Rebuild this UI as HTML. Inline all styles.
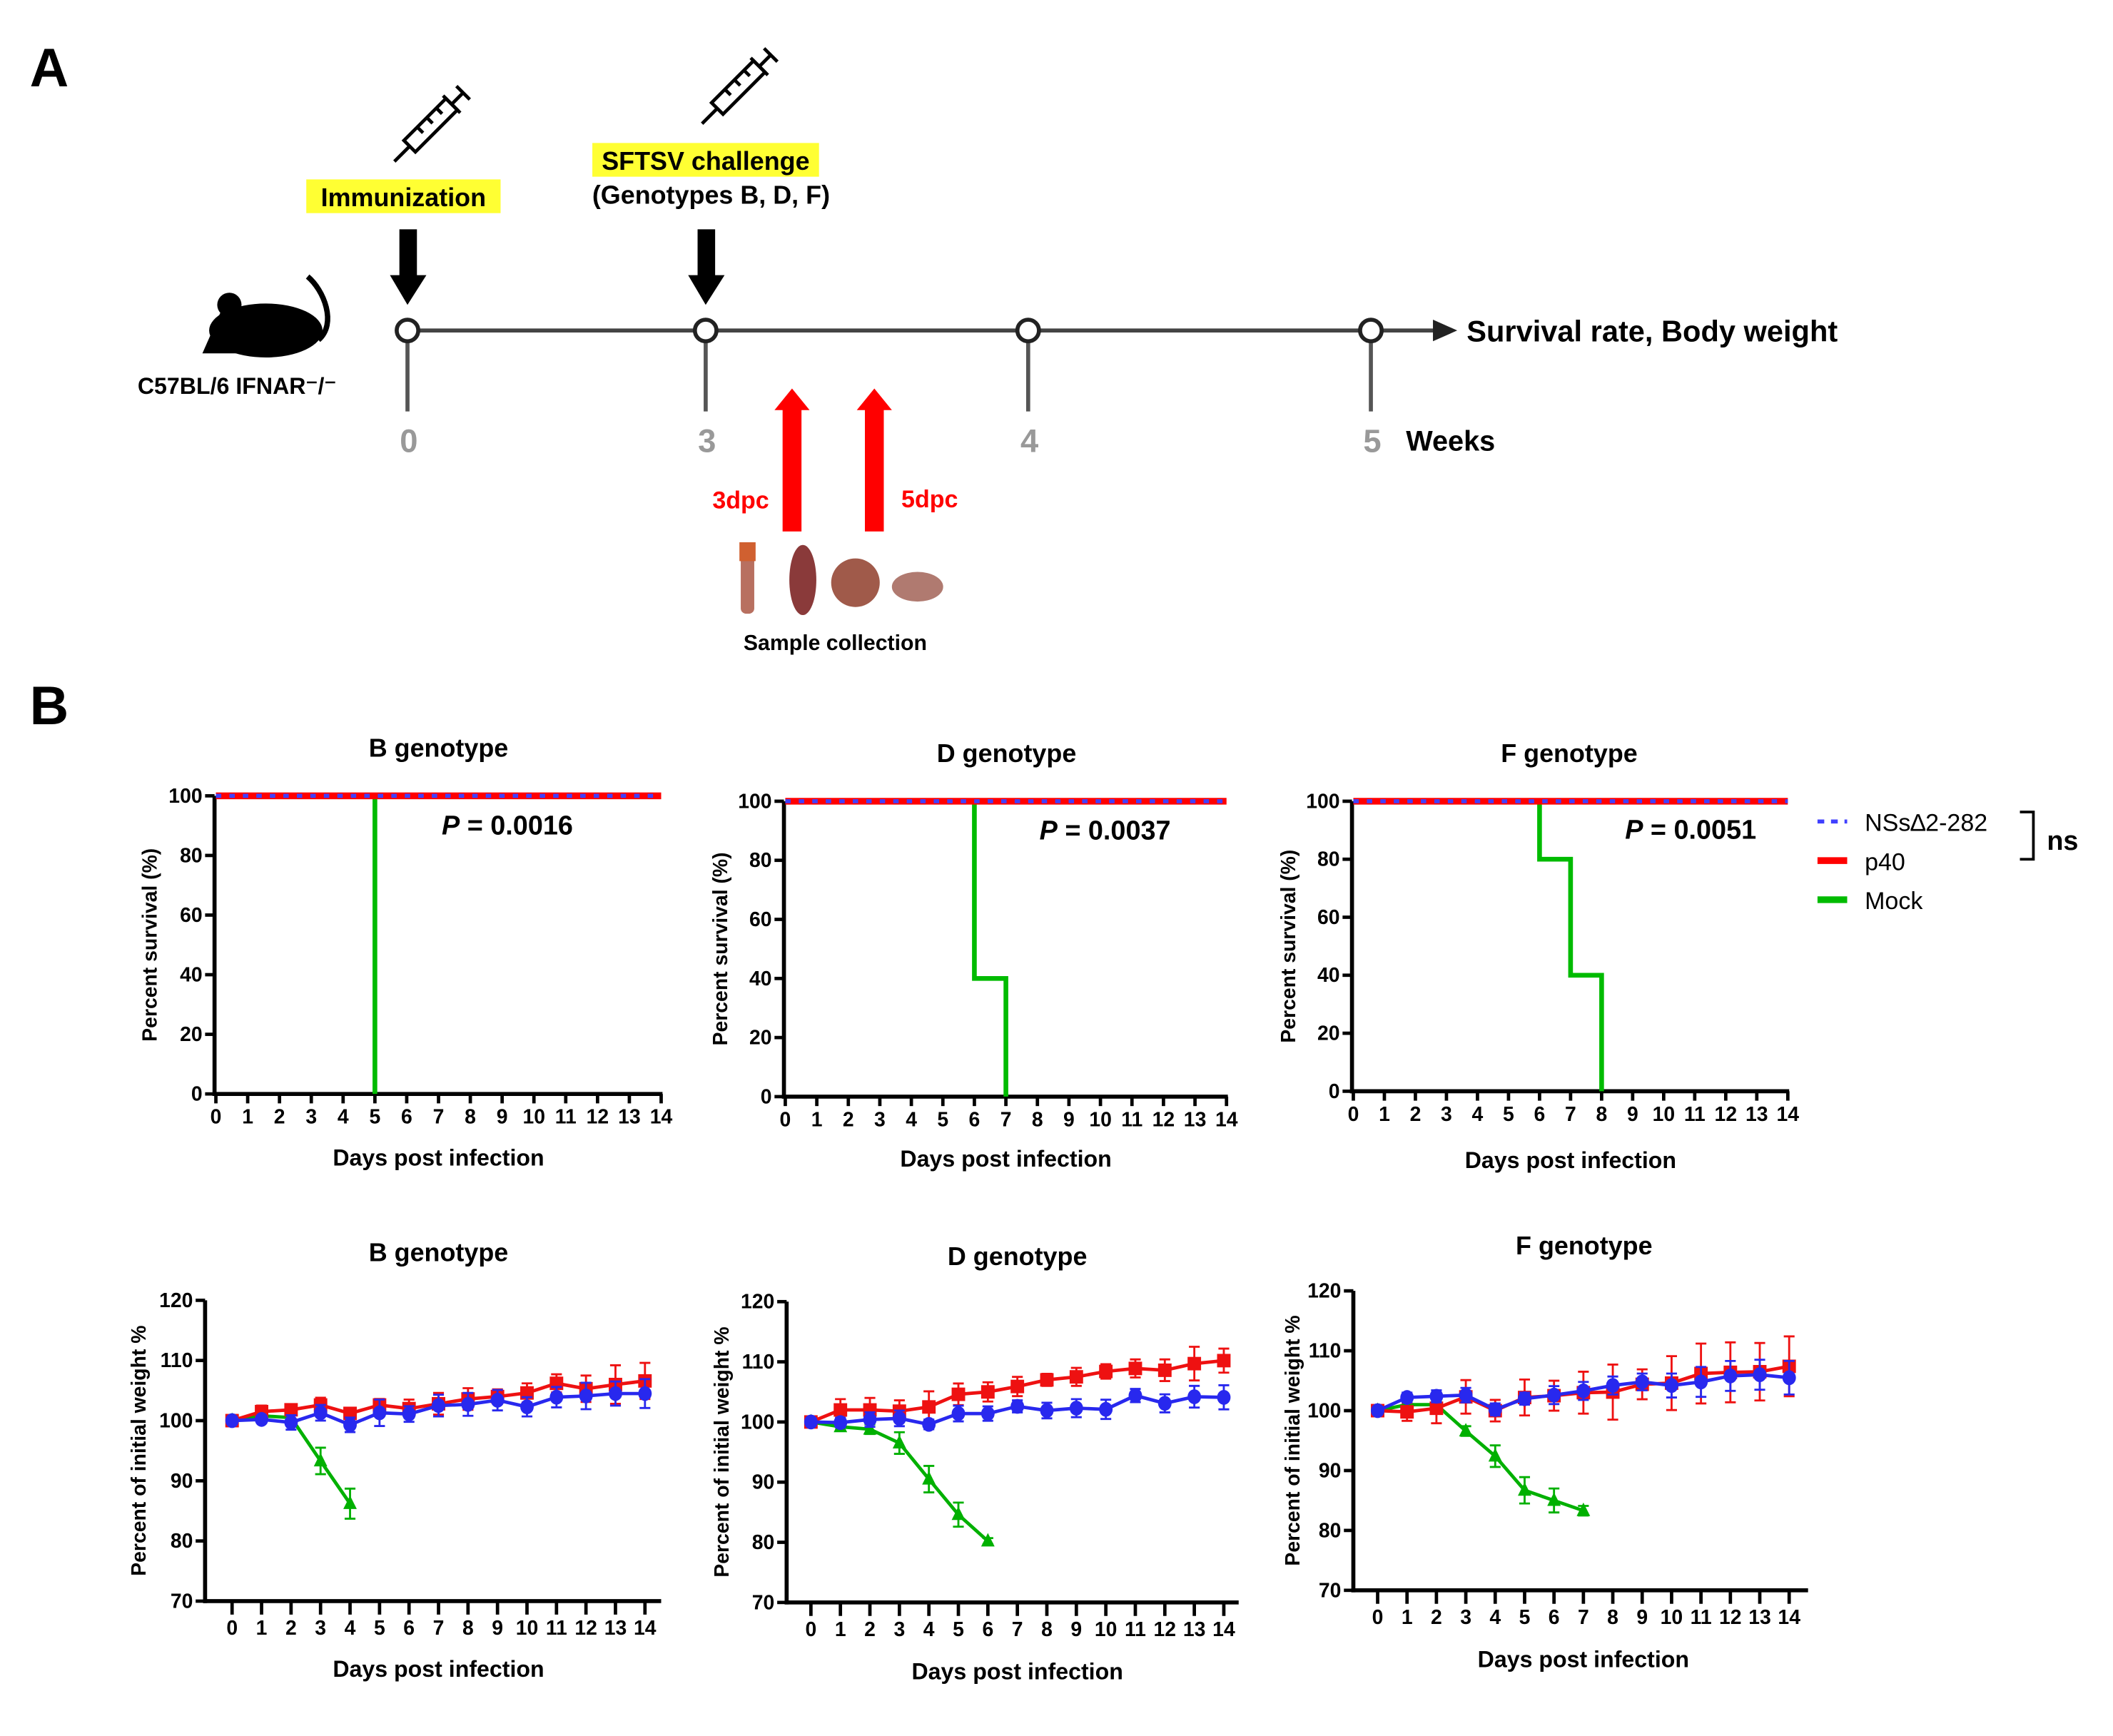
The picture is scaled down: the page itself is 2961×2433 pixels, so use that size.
<!DOCTYPE html>
<html><head><meta charset="utf-8">
<style>
html,body{margin:0;padding:0;background:#fff;}
svg{display:block;font-family:"Liberation Sans",Arial,sans-serif;}
</style></head>
<body>
<svg id="fig" width="2961" height="2433" viewBox="0 0 1566 1287" preserveAspectRatio="none" xmlns="http://www.w3.org/2000/svg">
<rect x="0" y="0" width="1566" height="1287" fill="#fff"/>
<!-- Panel A -->
<g>
<text x="22" y="64" font-size="40" font-weight="bold">A</text>
<line x1="302" y1="245" x2="1068" y2="245" stroke="#444" stroke-width="3"/>
<polygon points="1062,237 1080,245 1062,253" fill="#222"/>
<g stroke="#555" stroke-width="3" fill="#fff">
<line x1="302" y1="245" x2="302" y2="305"/><line x1="523" y1="245" x2="523" y2="305"/><line x1="762" y1="245" x2="762" y2="305"/><line x1="1016" y1="245" x2="1016" y2="305"/>
<circle cx="302" cy="245" r="8" stroke="#222"/><circle cx="523" cy="245" r="8" stroke="#222"/><circle cx="762" cy="245" r="8" stroke="#222"/><circle cx="1016" cy="245" r="8" stroke="#222"/>
</g>
<g font-size="24" font-weight="bold" fill="#999" text-anchor="middle">
<text x="303" y="335">0</text><text x="524" y="335">3</text><text x="763" y="335">4</text><text x="1017" y="335">5</text>
</g>
<text x="1042" y="334" font-size="21" font-weight="bold">Weeks</text>
<text x="1087" y="253" font-size="22" font-weight="bold">Survival rate, Body weight</text>
<g fill="#000">
<rect x="296" y="170" width="13" height="36"/><polygon points="289,204 316,204 302,226"/>
<rect x="517" y="170" width="13" height="36"/><polygon points="510,204 537,204 523,226"/>
</g>
<rect x="227" y="133" width="144" height="25" fill="#ffff33"/>
<text x="299" y="153" font-size="19" font-weight="bold" text-anchor="middle">Immunization</text>
<rect x="439" y="106" width="168" height="25" fill="#ffff33"/>
<text x="523" y="126" font-size="19" font-weight="bold" text-anchor="middle">SFTSV challenge</text>
<text x="527" y="151" font-size="19" font-weight="bold" text-anchor="middle">(Genotypes B, D, F)</text>
<g stroke="#000" stroke-width="2.5" fill="none" transform="translate(322,90) rotate(-45)">
<rect x="-26" y="-6" width="44" height="12" fill="#fff"/><line x1="-26" y1="0" x2="-42" y2="0"/><line x1="18" y1="-9" x2="18" y2="9"/><line x1="18" y1="0" x2="30" y2="0"/><line x1="30" y1="-7" x2="30" y2="7"/>
<line x1="-12" y1="-6" x2="-12" y2="0"/><line x1="-2" y1="-6" x2="-2" y2="0"/><line x1="8" y1="-6" x2="8" y2="0"/>
</g>
<g stroke="#000" stroke-width="2.5" fill="none" transform="translate(550,62) rotate(-45)">
<rect x="-26" y="-6" width="44" height="12" fill="#fff"/><line x1="-26" y1="0" x2="-42" y2="0"/><line x1="18" y1="-9" x2="18" y2="9"/><line x1="18" y1="0" x2="30" y2="0"/><line x1="30" y1="-7" x2="30" y2="7"/>
<line x1="-12" y1="-6" x2="-12" y2="0"/><line x1="-2" y1="-6" x2="-2" y2="0"/><line x1="8" y1="-6" x2="8" y2="0"/>
</g>
<g fill="#000">
<ellipse cx="197" cy="245" rx="42" ry="20"/>
<polygon points="150,262 165,228 190,228 190,262"/>
<circle cx="170" cy="226" r="9"/>
<path d="M236,252 C250,240 240,215 228,205" stroke="#000" stroke-width="4" fill="none"/>
</g>
<text x="102" y="292" font-size="17" font-weight="bold">C57BL/6 IFNAR⁻/⁻</text>
<g fill="#ff0000">
<rect x="580" y="302" width="14" height="92"/><polygon points="574,304 600,304 587,288"/>
<rect x="641" y="302" width="14" height="92"/><polygon points="635,304 661,304 648,288"/>
</g>
<text x="549" y="377" font-size="18" font-weight="bold" fill="#ff0000" text-anchor="middle">3dpc</text>
<text x="689" y="376" font-size="18" font-weight="bold" fill="#ff0000" text-anchor="middle">5dpc</text>
<g>
<rect x="549" y="403" width="10" height="52" rx="4" fill="#b87060"/><rect x="548" y="402" width="12" height="14" fill="#d06030"/>
<ellipse cx="595" cy="430" rx="10" ry="26" fill="#8a3a3a"/>
<ellipse cx="634" cy="432" rx="18" ry="18" fill="#a05a4a"/>
<ellipse cx="680" cy="435" rx="19" ry="11" fill="#b07a70"/>
</g>
<text x="619" y="482" font-size="16" font-weight="bold" text-anchor="middle">Sample collection</text>
</g>
<text x="22" y="537" font-size="40" font-weight="bold">B</text>
<g id="charts"></g>
</svg>
<script>
// ---- survival data ----
const survDays = [0,1,2,3,4,5,6,7,8,9,10,11,12,13,14];
const survTicks = [0,20,40,60,80,100];
const mockSurvB_days = [0,5,5];
const mockSurvB_vals = [100,100,0];
const mockSurvD_days = [0,6,6,7,7];
const mockSurvD_vals = [100,100,40,40,0];
const mockSurvF_days = [0,6,6,7,7,8,8];
const mockSurvF_vals = [100,100,80,80,40,40,0];
// ---- weight data ----
const weightDays = [0,1,2,3,4,5,6,7,8,9,10,11,12,13,14];
const weightTicks = [70,80,90,100,110,120];
const p40B = [100,101.5,101.8,102.6,101.2,102.6,102,102.8,103.6,104,104.6,106.2,105.3,106,106.6];
const p40B_err = [0.8,1,0.8,1.2,0.8,1,1.5,1.8,1.8,1.2,1.6,1.5,2.2,3.2,3];
const nssB = [100,100.2,99.7,101.3,99.3,101.3,101.1,102.5,102.7,103.4,102.3,103.9,104.1,104.5,104.5];
const nssB_err = [0.5,0.6,1.2,1.3,1.2,2.2,1.3,1.8,1.9,1.7,1.6,1.7,2.2,2,2.4];
const mockB = [100,100.8,100.5,93.3,86.2];
const mockB_err = [0.3,0.3,0.8,2.2,2.5];
const p40D = [100,102,102,101.8,102.5,104.6,105,105.9,107,107.5,108.4,108.9,108.6,109.7,110.2];
const p40D_err = [0.8,1.8,2,1.8,2.6,1.8,1.6,1.6,1,1.5,1.2,1.5,1.8,2.8,2];
const nssD = [100,99.9,100.4,100.6,99.6,101.4,101.4,102.6,101.9,102.3,102.1,104.4,103.1,104.2,104.1];
const nssD_err = [0.6,0.8,1.2,1.3,0.8,1.3,1.2,1,1.3,1.5,1.6,1.1,1.5,1.8,2];
const mockD = [100,99.2,98.8,96.5,90.5,84.6,80.2];
const mockD_err = [0.4,0.6,0.8,1.8,2.2,2,0.5];
const p40F = [100,99.8,100.4,102.3,100,102.2,102.5,103,103.1,104.4,104.6,106.2,106.4,106.5,107.4];
const p40F_err = [0.8,1.5,2.5,2.8,1.8,3,2.5,3.5,4.6,2.5,4.5,5,5,4.8,5];
const nssF = [100,102.2,102.4,102.6,100.2,102,102.6,103.3,104.2,104.8,104.2,104.8,105.8,106,105.5];
const nssF_err = [0.6,0.8,1,1.2,1,1,1.5,1.5,1.5,1.4,2,2.5,2.5,2.5,2.8];
const mockF = [100,101,101,96.6,92.4,86.7,85,83.3];
const mockF_err = [0.3,0.4,0.5,0.8,1.8,2.2,2,0.8];

const NS = 'http://www.w3.org/2000/svg';
const root = document.getElementById('charts');
function mk(tag, attrs, parent){
  const e = document.createElementNS(NS, tag);
  for (const k in attrs) e.setAttribute(k, attrs[k]);
  (parent||root).appendChild(e);
  return e;
}
function txt(parent, x, y, s, size, anchor, extra){
  const t = mk('text', Object.assign({x:x, y:y, 'font-size':size, 'text-anchor':anchor||'middle'}, extra||{}), parent);
  t.textContent = s;
  return t;
}

function axes(g, cfg){
  const sx = d => cfg.x0 + (cfg.x14 - cfg.x0) * d / 14;
  const sy = v => cfg.yBot + (cfg.yTop - cfg.yBot) * (v - cfg.vMin) / (cfg.vMax - cfg.vMin);
  const yAxis = mk('line', {x1:cfg.axX, y1:cfg.yTop, x2:cfg.axX, y2:cfg.yBot+1.5, stroke:'#000', 'stroke-width':3}, g);
  
  
  const xAxis = mk('line', {x1:cfg.axX-1.5, y1:cfg.yBot, x2:cfg.axR, y2:cfg.yBot, stroke:'#000', 'stroke-width':3}, g);
  
  
  cfg.ticks.forEach(v => {
    const tk = mk('line', {x1:cfg.axX-7, y1:sy(v), x2:cfg.axX, y2:sy(v), stroke:'#000', 'stroke-width':2.5}, g);
    
    
    const tl = txt(g, cfg.axX-9, sy(v)+5, String(v), 15, 'end', {'font-weight':'bold'});
    
    
  });
  survDays.forEach(d => {
    const tk = mk('line', {x1:sx(d), y1:cfg.yBot, x2:sx(d), y2:cfg.yBot+cfg.tickLen, stroke:'#000', 'stroke-width':2.5}, g);
    
    
    const tl = txt(g, sx(d), cfg.yBot+cfg.tickLen+15, String(d), 15, 'middle', {'font-weight':'bold'});
    
    
  });
  const tt = txt(g, cfg.tx, cfg.ty, cfg.title, 19, 'middle', {'font-weight':'bold'});
  
  
  const xt = txt(g, (cfg.x0+cfg.x14)/2, cfg.xty, 'Days post infection', 17, 'middle', {'font-weight':'bold'});
  
  
  const yt = txt(g, 0, 0, cfg.ytitle, 15, 'middle', {'font-weight':'bold', transform:'translate('+cfg.ytx+','+((cfg.yTop+cfg.yBot)/2)+') rotate(-90)'});
  
  
  return {sx, sy};
}

function survChart(cfg, mDays, mVals, pText){
  const g = mk('g', {});
  
  
  const s = axes(g, Object.assign({ticks:survTicks, vMin:0, vMax:100, tickLen:7, ytitle:'Percent survival (%)'}, cfg));
  let pts = mDays.map((d,i) => s.sx(d)+','+s.sy(mVals[i])).join(' ');
  const mock = mk('polyline', {points:pts, fill:'none', stroke:'#00bb00', 'stroke-width':3.5}, g);
  
  
  const red = mk('line', {x1:s.sx(0), y1:s.sy(100), x2:s.sx(14), y2:s.sy(100), stroke:'#ff0000', 'stroke-width':5}, g);
  
  
  const blue = mk('line', {x1:s.sx(0), y1:s.sy(100), x2:s.sx(14), y2:s.sy(100), stroke:'#4040ff', 'stroke-width':3, 'stroke-dasharray':'4,6'}, g);
  
  
  const pt = mk('text', {x:cfg.px, y:s.sy(87), 'font-size':20, 'font-weight':'bold', 'text-anchor':'middle'}, g);
  pt.innerHTML = '<tspan font-style="italic">P</tspan> = ' + pText;
  
  
}

function series(g, s, vals, errs, color, marker, name){
  const sg = mk('g', {}, g);
  
  
  vals.forEach((v,i) => {
    const x = s.sx(weightDays[i]);
    const e = mk('path', {d:'M'+x+','+s.sy(v-errs[i])+'V'+s.sy(v+errs[i])+'M'+(x-4)+','+s.sy(v-errs[i])+'H'+(x+4)+'M'+(x-4)+','+s.sy(v+errs[i])+'H'+(x+4), stroke:color, 'stroke-width':1.5, fill:'none'}, sg);
    
    
  });
  const pts = vals.map((v,i) => s.sx(weightDays[i])+','+s.sy(v)).join(' ');
  const ln = mk('polyline', {points:pts, fill:'none', stroke:color, 'stroke-width':2.5}, sg);
  
  
  vals.forEach((v,i) => {
    const x = s.sx(weightDays[i]), y = s.sy(v);
    let m;
    if (marker === 'square') m = mk('rect', {x:x-5, y:y-5, width:10, height:10, fill:color}, sg);
    else if (marker === 'circle') m = mk('ellipse', {cx:x, cy:y, rx:5, ry:5.5, fill:color}, sg);
    else m = mk('polygon', {points:(x-5)+','+(y+4)+' '+(x+5)+','+(y+4)+' '+x+','+(y-6), fill:color}, sg);
    
    
  });
}

function weightChart(cfg, p40, p40e, nss, nsse, mock, mocke){
  const g = mk('g', {});
  
  
  const s = axes(g, Object.assign({ticks:weightTicks, vMin:70, vMax:120, tickLen:10, ytitle:'Percent of initial weight %'}, cfg));
  series(g, s, mock, mocke, '#00b000', 'tri', 'mock-weight-series');
  series(g, s, p40, p40e, '#ee1111', 'square', 'p40-weight-series');
  series(g, s, nss, nsse, '#2828ee', 'circle', 'nss-weight-series');
}

survChart({key:'b', title:'B genotype', tx:325, ty:561, x0:160, x14:490, axX:159, axR:491, yTop:590, yBot:811, xty:864, ytx:116, px:376}, mockSurvB_days, mockSurvB_vals, '0.0016');
survChart({key:'d', title:'D genotype', tx:746, ty:565, x0:582, x14:909, axX:581, axR:910, yTop:594, yBot:813, xty:865, ytx:539, px:819}, mockSurvD_days, mockSurvD_vals, '0.0037');
survChart({key:'f', title:'F genotype', tx:1163, ty:565, x0:1003, x14:1325, axX:1002, axR:1326, yTop:594, yBot:809, xty:866, ytx:960, px:1253}, mockSurvF_days, mockSurvF_vals, '0.0051');

weightChart({key:'b', title:'B genotype', tx:325, ty:935, x0:172, x14:478, axX:152, axR:490, yTop:964, yBot:1187, xty:1243, ytx:108}, p40B, p40B_err, nssB, nssB_err, mockB, mockB_err);
weightChart({key:'d', title:'D genotype', tx:754, ty:938, x0:601, x14:907, axX:583, axR:918, yTop:965, yBot:1188, xty:1245, ytx:540}, p40D, p40D_err, nssD, nssD_err, mockD, mockD_err);
weightChart({key:'f', title:'F genotype', tx:1174, ty:930, x0:1021, x14:1326, axX:1003, axR:1340, yTop:957, yBot:1179, xty:1236, ytx:963}, p40F, p40F_err, nssF, nssF_err, mockF, mockF_err);

const lg = mk('g', {});


const l1 = mk('line', {x1:1347, y1:609, x2:1369, y2:609, stroke:'#4040ff', 'stroke-width':3, 'stroke-dasharray':'5,5'}, lg);


const l2 = mk('line', {x1:1347, y1:638, x2:1369, y2:638, stroke:'#ff0000', 'stroke-width':5}, lg);


const l3 = mk('line', {x1:1347, y1:667, x2:1369, y2:667, stroke:'#00bb00', 'stroke-width':5}, lg);


const t1 = txt(lg, 1382, 616, 'NSs∆2-282', 18, 'start');


const t2 = txt(lg, 1382, 645, 'p40', 18, 'start');


const t3 = txt(lg, 1382, 674, 'Mock', 18, 'start');


const br = mk('path', {d:'M1497,602 H1507 V637 H1497', stroke:'#000', 'stroke-width':2, fill:'none'}, lg);


const ns = txt(lg, 1517, 630, 'ns', 20, 'start', {'font-weight':'bold'});


</script>
</body></html>
